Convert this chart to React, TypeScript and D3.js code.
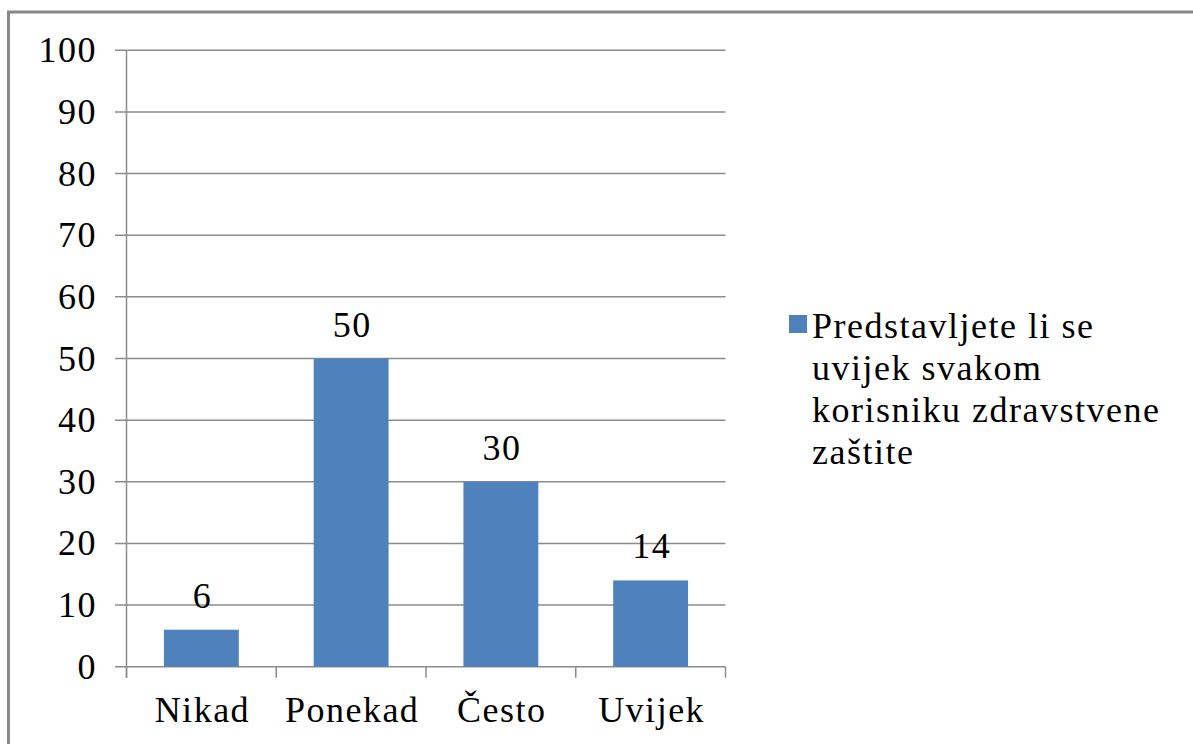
import React from "react";
import * as d3 from "d3";

const categories = ["Nikad", "Ponekad", "Često", "Uvijek"];
const values = [6, 50, 30, 14];
const yTicks = [0, 10, 20, 30, 40, 50, 60, 70, 80, 90, 100];
const legendLines = ["Predstavljete li se", "uvijek svakom", "korisniku zdravstvene", "zaštite"];

const W = 1193;
const H = 744;
const left = 126.5;
const right = 725.5;
const top = 50.3;
const bottom = 666.7;

const x = d3.scaleBand().domain(categories).range([left, right]).paddingInner(0.5).paddingOuter(0.25);
const y = d3.scaleLinear().domain([0, 100]).range([bottom, top]);
const catBoundaries = d3.range(categories.length + 1).map((i) => left + (i * (right - left)) / categories.length);

const FONT = "Liberation Serif";
const ts = { fontFamily: FONT, fontSize: 36, letterSpacing: 1.5 };

export default function App() {
  return (
    <svg width={W} height={H} style={{ position: "absolute", left: 0, top: 0 }}>
      <rect x={8.5} y={12} width={1300} height={900} fill="none" stroke="#888" strokeWidth={3} />
      {yTicks.map((t) => (
        <line key={"g" + t} x1={115} x2={right} y1={y(t)} y2={y(t)} stroke="#8c8c8c" strokeWidth={1.5} />
      ))}
      <line x1={left} x2={left} y1={top} y2={bottom + 11} stroke="#8c8c8c" strokeWidth={1.5} />
      {catBoundaries.map((b, i) => (
        <line key={"b" + i} x1={b} x2={b} y1={bottom} y2={bottom + 11} stroke="#8c8c8c" strokeWidth={1.5} />
      ))}
      {categories.map((c, i) => (
        <rect key={"r" + c} x={x(c)} y={y(values[i])} width={x.bandwidth()} height={bottom - y(values[i])} fill="#4F81BD" />
      ))}
      <rect x={789} y={315} width={18} height={18} fill="#4F81BD" />
      <g style={{ fontFamily: FONT }} fill="#000">
        {yTicks.map((t) => (
          <text key={"t" + t} x={97} y={y(t) + 12} textAnchor="end" style={ts}>
            {String(t)}
          </text>
        ))}
        {categories.map((c, i) => (
          <text key={"v" + c} x={(x(c) as number) + x.bandwidth() / 2 + 1} y={y(values[i]) - 22} textAnchor="middle" style={ts}>
            {String(values[i])}
          </text>
        ))}
        {categories.map((c) => (
          <text key={"c" + c} x={(x(c) as number) + x.bandwidth() / 2 + 1} y={722} textAnchor="middle" style={ts}>
            {c}
          </text>
        ))}
        {legendLines.map((l, i) => (
          <text key={"l" + i} x={812} y={338 + i * 42} style={ts}>
            {l}
          </text>
        ))}
      </g>
    </svg>
  );
}
